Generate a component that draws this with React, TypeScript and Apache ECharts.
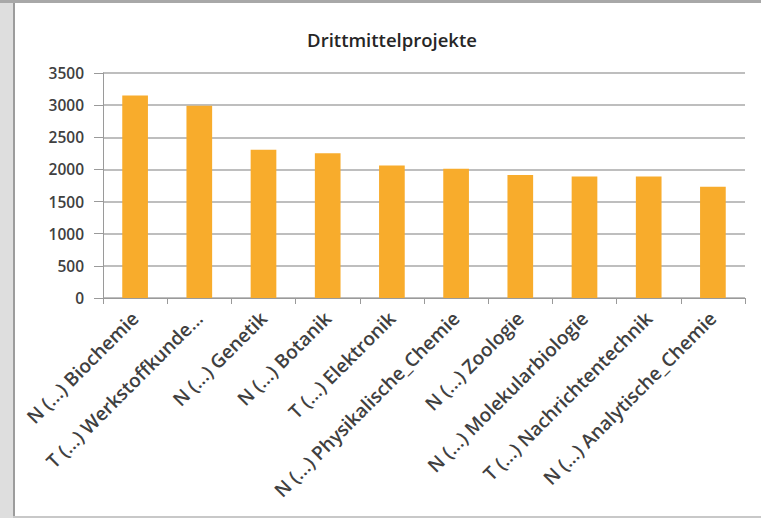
import React, { useEffect, useRef } from "react";
import * as echarts from "echarts";

const TITLE = "Drittmittelprojekte";
const categories = [
  "N (...) Biochemie",
  "T (...) Werkstoffkunde...",
  "N (...) Genetik",
  "N (...) Botanik",
  "T (...) Elektronik",
  "N (...) Physikalische_Chemie",
  "N (...) Zoologie",
  "N (...) Molekularbiologie",
  "T (...) Nachrichtentechnik",
  "N (...) Analytische_Chemie",
];
const values = [3150, 2990, 2305, 2250, 2060, 2010, 1915, 1890, 1890, 1730];
const yMin = 0;
const yMax = 3500;
const yInterval = 500;

export default function App() {
  const ref = useRef<HTMLDivElement>(null);
  useEffect(() => {
    if (!ref.current) return;
    const chart = echarts.init(ref.current, undefined, { renderer: "svg" });
    const font = "'Open Sans', 'Liberation Sans', sans-serif";
    chart.setOption({
      animation: false,
      backgroundColor: "#ffffff",
      title: {
        text: TITLE,
        left: 387,
        top: 25,
        textAlign: "center",
        textStyle: { fontFamily: font, fontSize: 18.5, fontWeight: 600, color: "#262626" },
      },
      graphic: [
        { type: "rect", shape: { x: 0, y: 0, width: 13, height: 518 }, style: { fill: "#dedede" }, silent: true },
        { type: "rect", shape: { x: 13, y: 0, width: 2, height: 518 }, style: { fill: "#9c9c9c" }, silent: true },
        { type: "rect", shape: { x: 0, y: 0, width: 761, height: 3 }, style: { fill: "#a8a8a8" }, silent: true },
        { type: "rect", shape: { x: 13, y: 516, width: 748, height: 2 }, style: { fill: "#c8c8c8" }, silent: true },
      ],
      grid: { left: 103, right: 16, top: 73, bottom: 220, containLabel: false },
      xAxis: {
        type: "category",
        data: categories,
        axisLine: { lineStyle: { color: "#9a9a9a", width: 1 } },
        axisTick: { show: true, length: 6, lineStyle: { color: "#9a9a9a" } },
        axisLabel: {
          rotate: 45,
          interval: 0,
          margin: 17,
          fontFamily: font,
          fontSize: 19,
          fontWeight: 600,
          color: "#404040",
        },
      },
      yAxis: {
        type: "value",
        min: yMin,
        max: yMax,
        interval: yInterval,
        axisLine: { show: true, lineStyle: { color: "#9a9a9a" } },
        axisTick: { show: true, length: 9, lineStyle: { color: "#9a9a9a" } },
        splitLine: { lineStyle: { color: "#a8a8a8", width: 1.5 } },
        axisLabel: {
          margin: 19,
          fontFamily: font,
          fontSize: 15.5,
          fontWeight: 600,
          color: "#404040",
          formatter: (v: number) => String(v),
        },
      },
      series: [
        {
          type: "bar",
          data: values,
          barWidth: "40%",
          itemStyle: { color: "#F8AC2C" },
        },
      ],
    });
    return () => chart.dispose();
  }, []);
  return <div ref={ref} style={{ width: 761, height: 518, position: "absolute", left: 0, top: 0 }} />;
}
